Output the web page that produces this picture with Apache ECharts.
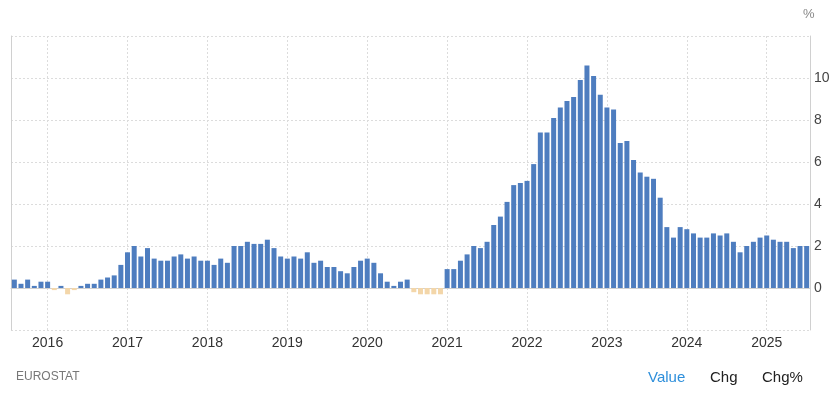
<!DOCTYPE html>
<html>
<head>
<meta charset="utf-8">
<script src="https://cdn.jsdelivr.net/npm/echarts@6/dist/echarts.min.js"></script>
<style>
  html, body { margin: 0; padding: 0; background: #fff; }
  #chart { width: 838px; height: 399px; }
</style>
</head>
<body>
<div id="chart"></div>
<script>
// monthly values, Aug 2015 .. Jul 2025 (%)
var v2015 = [0.4, 0.2, 0.4, 0.1, 0.3]
var v2016 = [0.3, -0.1, 0.1, -0.3, -0.1, 0.1, 0.2, 0.2, 0.4, 0.5, 0.6, 1.1]
var v2017 = [1.7, 2.0, 1.5, 1.9, 1.4, 1.3, 1.3, 1.5, 1.6, 1.4, 1.5, 1.3]
var v2018 = [1.3, 1.1, 1.4, 1.2, 2.0, 2.0, 2.2, 2.1, 2.1, 2.3, 1.9, 1.5]
var v2019 = [1.4, 1.5, 1.4, 1.7, 1.2, 1.3, 1.0, 1.0, 0.8, 0.7, 1.0, 1.3]
var v2020 = [1.4, 1.2, 0.7, 0.3, 0.1, 0.3, 0.4, -0.2, -0.3, -0.3, -0.3, -0.3]
var v2021 = [0.9, 0.9, 1.3, 1.6, 2.0, 1.9, 2.2, 3.0, 3.4, 4.1, 4.9, 5.0]
var v2022 = [5.1, 5.9, 7.4, 7.4, 8.1, 8.6, 8.9, 9.1, 9.9, 10.6, 10.1, 9.2]
var v2023 = [8.6, 8.5, 6.9, 7.0, 6.1, 5.5, 5.3, 5.2, 4.3, 2.9, 2.4, 2.9]
var v2024 = [2.8, 2.6, 2.4, 2.4, 2.6, 2.5, 2.6, 2.2, 1.7, 2.0, 2.2, 2.4]
var v2025 = [2.5, 2.3, 2.2, 2.2, 1.9, 2.0, 2.0]

var yTicks = [0, 2, 4, 6, 8, 10]
var startYear = 2015
var startMonth = 8

var values = [].concat(v2015, v2016, v2017, v2018, v2019, v2020, v2021, v2022, v2023, v2024, v2025)
var months = []
for (var i = 0; i < values.length; i++) {
  var m = startMonth - 1 + i
  var y = startYear + Math.floor(m / 12)
  var mm = (m % 12) + 1
  months.push(y + '-' + (mm < 10 ? '0' + mm : mm))
}
function isJan (idx, val) { return /-01$/.test(val) }

var chart = echarts.init(document.getElementById('chart'))
var option = {
  animation: false,
  grid: { left: 11, right: 28, top: 36, bottom: 69 },
  xAxis: {
    type: 'category',
    data: months,
    boundaryGap: true,
    axisLine: { show: true, lineStyle: { color: '#d0d0d0', width: 1 } },
    axisTick: { show: false },
    axisLabel: {
      interval: isJan,
      formatter: function (v) { return v.slice(0, 4) },
      color: '#333',
      fontSize: 14,
      fontFamily: 'Liberation Sans, Arial, sans-serif',
      margin: 6
    },
    splitLine: {
      show: true,
      interval: isJan,
      alignWithLabel: true,
      lineStyle: { color: '#dcdcdc', type: [2, 2], width: 1 }
    }
  },
  yAxis: [{
    type: 'value',
    position: 'right',
    min: -2,
    max: 12,
    interval: 2,
    axisLine: { show: true, lineStyle: { color: '#d0d0d0' } },
    axisTick: { show: false },
    axisLabel: {
      color: '#444',
      fontSize: 14,
      fontFamily: 'Liberation Sans, Arial, sans-serif',
      margin: 4,
      formatter: function (v) { return yTicks.indexOf(v) >= 0 ? String(v) : '' }
    },
    splitLine: { show: true, lineStyle: { color: '#dcdcdc', type: [2, 2] } }
  }, {
    type: 'value',
    position: 'left',
    min: -2,
    max: 12,
    interval: 2,
    axisLine: { show: true, lineStyle: { color: '#d0d0d0' } },
    axisTick: { show: false },
    axisLabel: { show: false },
    splitLine: { show: false }
  }],
  series: [{
    type: 'bar',
    data: values,
    barWidth: 5,
    itemStyle: {
      color: function (p) { return p.value < 0 ? '#f3d6a9' : '#4e7dbf' }
    }
  }],
  graphic: [
    { type: 'text', left: 803, top: 8, style: { text: '%', fill: '#888', font: '13px "Liberation Sans", Arial, sans-serif' } },
    { type: 'text', left: 16, top: 371, style: { text: 'EUROSTAT', fill: '#777', font: '12px "Liberation Sans", Arial, sans-serif' } },
    { type: 'text', left: 648, top: 370, style: { text: 'Value', fill: '#2e8fdb', font: '15px "Liberation Sans", Arial, sans-serif' } },
    { type: 'text', left: 710, top: 370, style: { text: 'Chg', fill: '#222', font: '15px "Liberation Sans", Arial, sans-serif' } },
    { type: 'text', left: 762, top: 370, style: { text: 'Chg%', fill: '#222', font: '15px "Liberation Sans", Arial, sans-serif' } }
  ]
}
chart.setOption(option)
window.addEventListener('resize', function () { chart.resize() })
</script>
</body>
</html>
